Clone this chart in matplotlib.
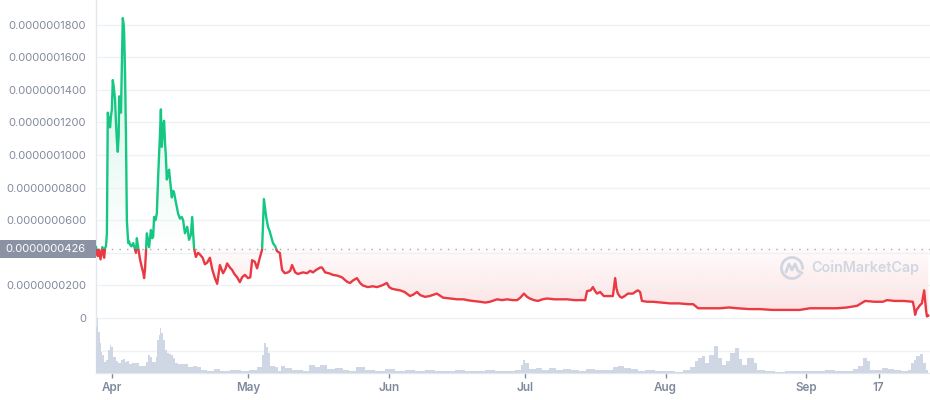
import numpy as np
import matplotlib.pyplot as plt
import matplotlib.colors as mcolors
from matplotlib.path import Path
from matplotlib.patches import PathPatch, Rectangle, Arc

plt.rcParams['font.family'] = ['Inter', 'DejaVu Sans']

# --- data ---
start = np.datetime64('2021-03-28T12:00')
baseline = 0.0000000426

# days since start / price in units of 1e-9
price_days = np.array([
    0, 0.2, 0.4, 0.6, 0.8, 1.0, 1.2, 1.4, 1.6, 1.8, 2.0, 2.2, 2.4, 2.6, 2.9, 3.1, 3.3, 3.5,
    3.7, 3.9, 4.2, 4.4, 4.6, 4.8, 5.0, 5.1, 5.3, 5.5, 5.7, 5.9, 6.1, 6.2, 6.4, 6.6, 6.8, 7.1,
    7.3, 7.5, 7.8, 8.2, 8.4, 8.6, 8.8, 9.0, 9.3, 9.7, 10.1, 10.4, 10.6, 10.8, 11.0, 11.2,
    11.5, 11.7, 12.1, 12.4, 12.6, 12.8, 13.1, 13.4, 13.7, 14.1, 14.3, 14.5, 14.8, 15.0,
    15.2, 15.4, 15.6, 15.9, 16.1, 16.5, 16.7, 17.0, 17.2, 17.6, 18.1, 18.5, 18.9, 19.2,
    19.6, 20.1, 20.5, 20.9, 21.2, 21.6, 22.0, 22.5, 22.9, 23.5, 24.0, 24.5, 25.1, 25.6,
    26.2, 26.7, 27.3, 28.0, 28.5, 28.9, 29.5, 30.0, 30.5, 31.1, 31.7, 32.2, 32.8, 33.5,
    34.0, 34.4, 35.0, 35.5, 36.1, 36.6, 37.0, 37.5, 37.9, 38.3, 38.6, 39.0, 39.5, 39.9,
    40.5, 41.0, 41.6, 42.3, 42.8, 43.2, 43.9, 44.5, 45.0, 45.6, 46.5, 47.2, 47.8, 48.5,
    49.4, 49.8, 50.5, 51.3, 52.2, 53.2, 54.2, 55.0, 55.5, 56.0, 56.6, 57.5, 58.2, 58.8,
    59.9, 61.0, 61.9, 63.0, 64.1, 64.6, 65.2, 66.0, 67.0, 68.0, 69.2, 70.0, 70.7, 71.5,
    72.5, 73.5, 75.1, 76.5, 78.0, 79.6, 81.0, 81.8, 83.0, 84.6, 85.8, 86.8, 88.4, 89.5,
    90.6, 91.8, 92.8, 93.5, 94.3, 95.0, 95.6, 96.5, 97.4, 98.4, 99.4, 101.0, 102.5,
    103.8, 105.5, 107.0, 107.8, 108.2, 109.0, 109.5, 110.0, 110.4, 111.1, 111.9, 112.9,
    113.9, 114.4, 114.7, 115.0, 115.5, 115.9, 116.5, 117.2, 118.3, 118.8, 119.4, 119.9,
    120.3, 121.5, 122.7, 124.5, 126.5, 128.5, 130.5, 131.6, 132.7, 135.0, 137.5, 139.5,
    141.3, 144.0, 146.3, 149.0, 152.3, 155.1, 157.3, 160.0, 163.3, 165.5, 167.7, 168.6,
    169.5, 171.5, 173.4, 174.3, 176.0, 178.0, 180.0, 180.3, 180.5, 180.8, 181.1, 181.6,
    182.0, 182.5, 182.9, 183.1, 183.4])
price_e9 = np.array([
    43.5, 40, 38, 42, 39, 36, 41, 43.5, 39, 37, 43, 44, 52, 126, 120, 117, 124, 128,
    146, 142, 134, 120, 109, 102, 112, 136, 130, 126, 154, 184, 180, 175, 150, 113, 60, 46,
    47, 45, 44, 46, 44, 42, 40, 49, 43, 36, 31, 28, 24.5, 30, 40, 52,
    47, 43.5, 54, 49, 50, 62, 60, 64, 87, 113, 128, 105, 118, 121,
    108, 99, 85, 88, 91, 80, 74, 78, 77, 71, 64, 61, 62, 60,
    52, 56, 48, 51, 62, 43, 37.5, 40, 39, 37, 33, 34, 37, 30,
    24.5, 21, 32.5, 27.5, 30, 33.5, 31, 29.5, 27, 25, 22, 25, 26.5, 24.5,
    25, 35.5, 34.5, 30.5, 37, 42, 73, 62, 56, 53, 50, 46, 44, 41,
    40, 29.5, 27.5, 28, 29, 32.5, 28, 27, 27.5, 28, 27.5, 29, 28, 29.5,
    31, 31, 28, 27.5, 26.5, 26, 25, 23, 22, 21.5, 23, 24.5, 21.5, 20,
    19, 19.5, 19, 20, 21.5, 19, 18, 17.5, 17, 16, 13.5, 14.5, 16, 14,
    13, 13.5, 15, 12.5, 12, 11.5, 11.5, 11, 10.5, 10, 9.5, 10, 11.5, 11,
    11.5, 11, 11, 12.5, 15, 13, 12, 11, 10.5, 11.5, 12, 11.5, 11.5,
    11.5, 11, 11, 11, 16.5, 17, 19, 16.5, 15, 16, 13.5, 13.5,
    13.5, 24.5, 18, 15, 13, 12.5, 13.5, 15, 15, 16, 17, 16,
    10.5, 10, 10, 9.5, 9, 9, 8.5, 8.5, 6, 6, 6, 6.5,
    6, 5.5, 5.5, 5, 5, 5, 6, 6, 6, 6.5, 7.5, 9,
    10.5, 10, 10, 11, 10.5, 10.5, 10, 6, 2, 5, 6, 8,
    9, 17, 5, 1, 1.5])
price = price_e9 * 1e-9

vol_days = np.array([
    0, 0.2, 0.4, 0.7, 0.9, 1.1, 1.5, 2.0, 2.4, 2.9, 3.3, 3.5, 4.0, 4.6, 5.3, 5.7, 6.2, 6.6,
    7.1, 7.5, 8.4, 9.0, 9.9, 10.8, 11.2, 11.7, 12.1, 12.6, 13.0, 13.4, 13.7, 14.1, 14.3,
    14.5, 15.0, 15.4, 15.9, 16.3, 16.7, 17.2, 17.6, 18.5, 19.8, 20.7, 22.0, 22.7, 23.6,
    25.1, 26.7, 27.8, 31.1, 32.8, 34.6, 36.4, 36.8, 37.2, 37.7, 38.1, 38.8, 39.9, 40.5,
    41.2, 42.3, 43.9, 45.0, 46.1, 47.8, 48.9, 50.0, 51.6, 53.8, 54.9, 56.4, 58.2, 60.4,
    62.6, 64.8, 67.0, 69.2, 71.4, 73.6, 75.8, 78.0, 80.2, 82.4, 84.6, 86.8, 89.0, 91.2,
    93.4, 93.8, 94.3, 94.9, 95.9, 97.8, 98.9, 100.7, 102.2, 103.8, 105.6, 107.1, 108.9,
    111.1, 113.3, 114.4, 115.5, 117.2, 118.8, 119.9, 122.1, 124.3, 126.5, 128.7, 130.2,
    131.6, 132.4, 133.1, 133.8, 134.6, 135.7, 136.6, 137.5, 138.4, 139.1, 140.4, 141.3,
    141.9, 143.0, 144.1, 144.6, 145.2, 146.3, 148.5, 150.7, 152.9, 155.1, 157.3, 159.5,
    161.7, 164.0, 166.2, 167.5, 168.4, 169.5, 170.1, 171.0, 172.3, 173.9, 175.0, 176.5,
    178.3, 179.4, 180.0, 180.5, 181.1, 182.0, 182.6, 183.3])
volume = np.array([
    41, 46, 55, 41, 30, 21, 18, 11, 13, 23, 28, 26, 16, 12, 10, 13, 14, 11,
    12, 9, 10, 10, 7, 7, 11, 18, 16, 11, 11, 16, 33, 38, 45,
    40, 33, 23, 20, 19, 18, 15, 10, 9, 9, 6, 7, 6, 3,
    2, 4, 2, 3, 2, 3, 6, 18, 30, 26, 20, 7, 6, 2,
    7, 5, 3, 3, 2, 8, 6, 8, 4, 5, 3, 2, 6, 3,
    2, 4, 2, 3, 2, 3, 2, 2, 3, 2, 2, 3, 2, 2,
    3, 8, 13, 10, 4, 5, 3, 5, 3, 4, 3, 2, 4,
    3, 3, 6, 7, 5, 4, 2, 3, 2, 2, 1, 3,
    6, 12, 15, 17, 10, 18, 27, 15, 8, 12, 20, 25,
    14, 8, 15, 15, 10, 3, 2, 1, 2, 2, 2, 2,
    3, 2, 2, 4, 7, 15, 12, 3, 3, 5, 4, 3,
    2, 3, 10, 13, 17, 19, 10, 3])

tick_dates = np.array(['2021-04-01', '2021-05-01', '2021-06-01', '2021-07-01',
                       '2021-08-01', '2021-09-01', '2021-09-17'], dtype='datetime64[h]')
tick_labels = ['Apr', 'May', 'Jun', 'Jul', 'Aug', 'Sep', '17']
y_ticks = np.arange(-2, 19, 2) * 1e-8

GREEN = '#16c784'
RED = '#ea3943'
GRAY = '#808a9d'
GRID = '#eff2f5'

W, H = 930, 400
x_end = (W - 96) / 4.538
y_lo, y_hi = -3.37e-8, 1.951e-7

fig = plt.figure(figsize=(W / 100, H / 100), dpi=100)
ax = fig.add_axes([96 / W, 1 - 373 / H, 1 - 96 / W, 373 / H])
ax.set_xlim(0, x_end)
ax.set_ylim(y_lo, y_hi)

# grid + ticks
ax.set_yticks(y_ticks)
ylabels = []
for v in y_ticks:
    if v < 0 or abs(v - 4e-8) < 1e-12:
        ylabels.append('')
    elif abs(v) < 1e-12:
        ylabels.append('0')
    else:
        ylabels.append(f'{v:.10f}')
ax.set_yticklabels(ylabels)
ax.grid(axis='y', color=GRID, lw=1, zorder=0)
ax.tick_params(axis='y', length=0, pad=7, labelsize=8.0, labelcolor=GRAY)

tick_pos = (tick_dates - start) / np.timedelta64(1, 'D')
ax.set_xticks(tick_pos)
ax.set_xticklabels(tick_labels, fontweight='semibold')
ax.tick_params(axis='x', length=3.5, width=1, color=GRAY, pad=3, labelsize=8.4, labelcolor=GRAY)

for s in ['top', 'right']:
    ax.spines[s].set_visible(False)
for s in ['left', 'bottom']:
    ax.spines[s].set_color('#e3e7ee')
    ax.spines[s].set_linewidth(1)


def gradient_fill(mask, color, g_lo, g_hi, a_lo, a_hi):
    coll = ax.fill_between(price_days, price, baseline, where=mask, interpolate=True,
                           facecolor='none', edgecolor='none')
    clip = PathPatch(Path.make_compound_path(*coll.get_paths()), transform=ax.transData,
                     facecolor='none', edgecolor='none')
    ax.add_patch(clip)
    grad = np.zeros((256, 1, 4))
    grad[..., :3] = mcolors.to_rgb(color)
    grad[:, 0, 3] = np.linspace(a_lo, a_hi, 256)
    im = ax.imshow(grad, extent=[0, x_end, g_lo, g_hi], origin='lower', aspect='auto',
                   interpolation='bilinear', zorder=1)
    im.set_clip_path(clip)


gradient_fill(price >= baseline, GREEN, baseline, 1.85e-7, 0.0, 0.22)
gradient_fill(price <= baseline, RED, 0, baseline, 0.16, 0.02)
ax.set_xlim(0, x_end)
ax.set_ylim(y_lo, y_hi)

# price line: green above reference, red below
ln_g, = ax.plot(price_days, price, color=GREEN, lw=1.7, zorder=4, solid_joinstyle='round')
ln_g.set_clip_path(Rectangle((-5, baseline), x_end + 10, 1e-6, transform=ax.transData))
ln_r, = ax.plot(price_days, price, color=RED, lw=1.7, zorder=4, solid_joinstyle='round')
ln_r.set_clip_path(Rectangle((-5, -1e-6), x_end + 10, 1e-6 + baseline, transform=ax.transData))

ax.axhline(baseline, color='#a3a9b8', lw=1, linestyle=(0, (1, 4.5)), zorder=3)

# volume
axv = fig.add_axes([96 / W, 1 - 373 / H, 1 - 96 / W, 55 / H])
axv.set_xlim(0, x_end)
axv.set_ylim(0, 55)
axv.fill_between(vol_days, volume, 0, step='mid', color='#cfd6e4', lw=0)
axv.patch.set_alpha(0)
axv.axis('off')

# reference price label
fig.add_artist(Rectangle((0, 1 - 258 / H), 96 / W, 18 / H, transform=fig.transFigure,
                         facecolor='#8b92a3', edgecolor='none'))
fig.text(86 / W, 1 - 249.5 / H, f'{baseline:.10f}', ha='right', va='center',
         color='white', fontsize=8.0)

# watermark
wm = '#d0d6e2'
cx, cy = 792, 268
fig.add_artist(Arc((cx / W, 1 - cy / H), 21 / W, 21 / H, theta1=-20, theta2=300,
                   transform=fig.transFigure, color=wm, lw=2))
zig = np.array([[-6, 4], [-3, -4], [0, 2], [3, -4], [6, 3], [10, 5]])
fig.add_artist(plt.Line2D((cx + zig[:, 0]) / W, 1 - (cy + zig[:, 1]) / H,
                          transform=fig.transFigure, color=wm, lw=2,
                          solid_joinstyle='round', solid_capstyle='round'))
fig.text(919 / W, 1 - 268 / H, 'CoinMarketCap', ha='right', va='center', color=wm,
         fontsize=10.3, fontweight='semibold')

plt.savefig('out.png', dpi=100)
